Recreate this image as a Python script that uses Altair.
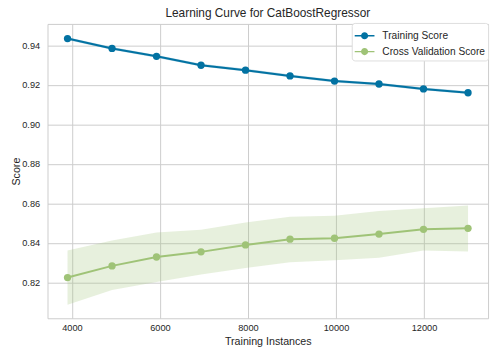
import altair as alt
import pandas as pd

# ---- data ----
train_sizes = [3900, 4911, 5922, 6933, 7944, 8955, 9966, 10977, 11988, 13000]
train_score = [0.9434, 0.9384, 0.9344, 0.9299, 0.9274, 0.9245, 0.9219, 0.9204, 0.9179, 0.9160]
train_lower = [0.9427, 0.9377, 0.9337, 0.9292, 0.9267, 0.9238, 0.9212, 0.9197, 0.9172, 0.9153]
train_upper = [0.9441, 0.9391, 0.9351, 0.9306, 0.9281, 0.9252, 0.9226, 0.9211, 0.9186, 0.9167]
cv_score = [0.8225, 0.8284, 0.8329, 0.8355, 0.8390, 0.8419, 0.8424, 0.8445, 0.8469, 0.8474]
cv_lower = [0.8087, 0.8162, 0.8203, 0.8240, 0.8273, 0.8303, 0.8312, 0.8325, 0.8362, 0.8357]
cv_upper = [0.8362, 0.8412, 0.8453, 0.8467, 0.8503, 0.8532, 0.8537, 0.8562, 0.8575, 0.8590]
series_names = ["Training Score", "Cross Validation Score"]
series_colors = ["#0272a2", "#9fc377"]
x_ticks = [4000, 6000, 8000, 10000, 12000]
y_ticks = [0.82, 0.84, 0.86, 0.88, 0.90, 0.92, 0.94]

rows = []
for i, s in enumerate(train_sizes):
    rows.append({"series": series_names[0], "size": s, "score": train_score[i],
                 "lo": train_lower[i], "hi": train_upper[i]})
for i, s in enumerate(train_sizes):
    rows.append({"series": series_names[1], "size": s, "score": cv_score[i],
                 "lo": cv_lower[i], "hi": cv_upper[i]})
df = pd.DataFrame(rows)

FONT = "Liberation Sans"
TXT = "#262626"

x_enc = alt.X("size:Q", title="Training Instances",
              scale=alt.Scale(domain=[3445, 13455], nice=False, zero=False),
              axis=alt.Axis(values=x_ticks, format="d"))
y_scale = alt.Scale(domain=[0.8019, 0.9508], nice=False, zero=False)
color_scale = alt.Scale(domain=series_names, range=series_colors)

legend_symbol = ("M-1,-0.07 L1,-0.07 L1,0.07 L-1,0.07 Z "
                 "M0.36,0 A0.36,0.36 0 1,1 -0.36,0 A0.36,0.36 0 1,1 0.36,0 Z")

base = alt.Chart(df)
layers = []
for name, col in zip(series_names, series_colors):
    layers.append(
        base.transform_filter(alt.datum.series == name).mark_area(opacity=0.25, color=col).encode(
            x=x_enc,
            y=alt.Y("lo:Q", title="Score", scale=y_scale,
                    axis=alt.Axis(values=y_ticks, format=".2f")),
            y2="hi:Q",
        )
    )
for name, col in zip(series_names, series_colors):
    layers.append(
        base.transform_filter(alt.datum.series == name).mark_line(strokeWidth=2, color=col).encode(
            x=x_enc,
            y=alt.Y("score:Q", scale=y_scale),
        )
    )

pts = base.mark_point(filled=True, size=55, opacity=1).encode(
    x=x_enc,
    y=alt.Y("score:Q", scale=y_scale),
    color=alt.Color("series:N", scale=color_scale,
                    legend=alt.Legend(title=None, orient="none", legendX=308, legendY=-1,
                                      symbolType=legend_symbol, symbolSize=400,
                                      symbolStrokeWidth=0,
                                      labelFontSize=10.3, labelFont=FONT, labelColor=TXT,
                                      labelOffset=8, rowPadding=-3, padding=3,
                                      fillColor="#ffffff",
                                      strokeColor="#dddddd", cornerRadius=3)),
)
layers.append(pts)

chart = alt.layer(*layers).properties(
    width=446, height=298,
    title=alt.Title("Learning Curve for CatBoostRegressor", font=FONT, fontSize=12,
                    fontWeight="normal", color=TXT, anchor="middle", offset=2),
    autosize=alt.AutoSizeParams(type="none"),
    padding={"left": 40, "top": 14, "right": 5, "bottom": 30},
).configure_view(
    stroke="#cccccc", strokeWidth=1
).configure_axis(
    grid=True, gridColor="#cccccc", gridWidth=1, domain=False, ticks=False,
    labelFont=FONT, labelFontSize=9.3, labelColor=TXT,
    titleFont=FONT, titleFontSize=10.8, titleColor=TXT, titleFontWeight="normal",
).configure_axisX(
    labelPadding=5, titlePadding=3
).configure_axisY(
    labelPadding=8, titlePadding=0
)

chart.save("out.html", embed_options={"renderer": "svg", "actions": False})
